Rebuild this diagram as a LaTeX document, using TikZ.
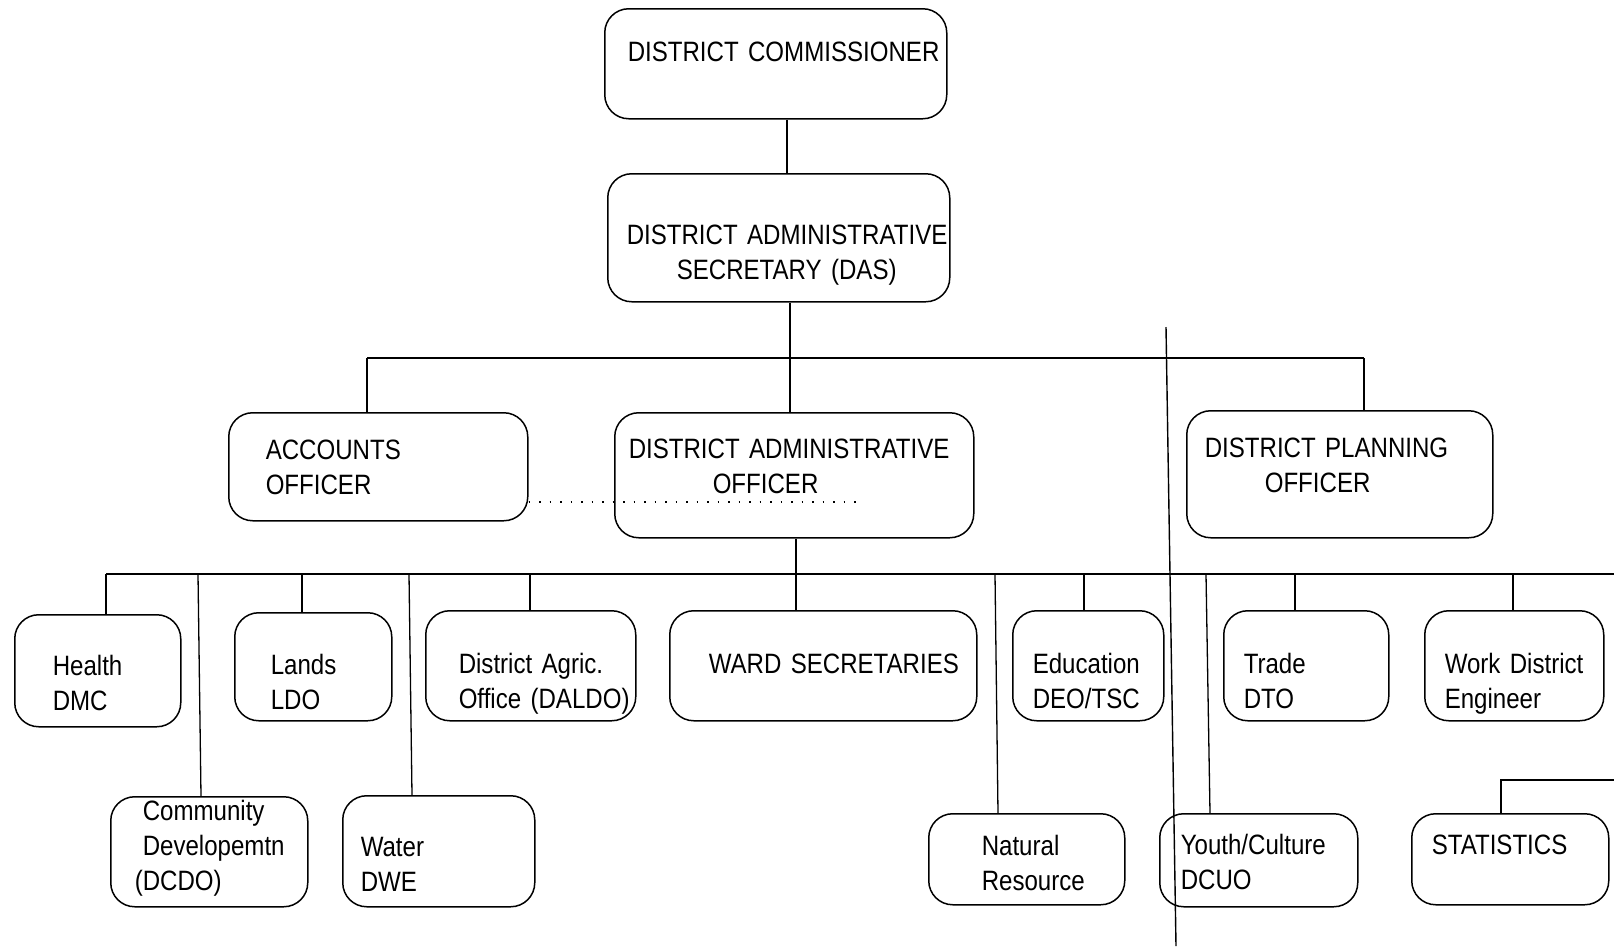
\documentclass[tikz,border=0pt]{standalone}
\usepackage{fontspec}
\setmainfont{Liberation Sans}[FakeStretch=0.86]
\tikzset{
  box/.style={draw, line width=1.5pt, rounded corners=24pt, anchor=north west,
    inner ysep=0pt, align=left, font=\fontsize{28}{35}\selectfont},
  link/.style={line width=1.3pt},
  crease/.style={line width=1.4pt},
  dotlink/.style={line width=1.4pt, dash pattern=on 1.5pt off 9pt}
}
\begin{document}
\begin{tikzpicture}[x=1pt,y=-1pt]
\useasboundingbox (0,0) rectangle (1614,946);
% top levels
\node[box, inner xsep=23pt, text width=296pt, text height=53pt, text depth=57pt] (dc) at (604,8)
  {\mbox{DISTRICT COMMISSIONER}};
\node[box, inner xsep=19pt, text width=304pt, text height=71pt, text depth=57pt] (das) at (607,173)
  {\mbox{DISTRICT ADMINISTRATIVE}\\\hspace*{50pt}\mbox{SECRETARY (DAS)}};
\node[box, inner xsep=37pt, text width=225pt, text height=47pt, text depth=61pt] (acc) at (228,412)
  {\mbox{ACCOUNTS}\\\mbox{OFFICER}};
\node[box, inner xsep=14pt, text width=331pt, text height=46pt, text depth=79pt] (dao) at (614,412)
  {\mbox{DISTRICT ADMINISTRATIVE}\\\hspace*{84pt}\mbox{OFFICER}};
\node[box, inner xsep=18pt, text width=270pt, text height=47pt, text depth=80pt] (dpo) at (1186,410)
  {\mbox{DISTRICT PLANNING}\\\hspace*{60pt}\mbox{OFFICER}};
% third row
\node[box, inner xsep=38pt, text width=90pt, text height=61pt, text depth=51pt] (hea) at (14,614)
  {\mbox{Health}\\\mbox{DMC}};
\node[box, inner xsep=36pt, text width=85pt, text height=62pt, text depth=46pt] (lan) at (234,612)
  {\mbox{Lands}\\\mbox{LDO}};
\node[box, inner xsep=33pt, text width=144pt, text height=63pt, text depth=47pt] (agr) at (425,610)
  {\mbox{District Agric.}\\\mbox{Office (DALDO)}};
\node[box, inner xsep=39pt, text width=229pt, text height=63pt, text depth=47pt] (war) at (669,610)
  {\mbox{WARD SECRETARIES}};
\node[box, inner xsep=20pt, text width=111pt, text height=63pt, text depth=47pt] (edu) at (1012,610)
  {\mbox{Education}\\\mbox{DEO/TSC}};
\node[box, inner xsep=20pt, text width=125pt, text height=63pt, text depth=47pt] (tra) at (1223,610)
  {\mbox{Trade}\\\mbox{DTO}};
\node[box, inner xsep=20pt, text width=139pt, text height=63pt, text depth=47pt] (wor) at (1424,610)
  {\mbox{Work District}\\\mbox{Engineer}};
% fourth row
\node[box, inner xsep=24pt, text width=149pt, text height=24pt, text depth=86pt] (cd) at (110,796)
  {\hspace*{8pt}\mbox{Community}\\\hspace*{8pt}\mbox{Developemtn}\\\mbox{(DCDO)}};
\node[box, inner xsep=18pt, text width=156pt, text height=61pt, text depth=50pt] (wat) at (342,795)
  {\mbox{Water}\\\mbox{DWE}};
\node[box, inner xsep=53pt, text width=90pt, text height=42pt, text depth=49pt] (nat) at (928,813)
  {\mbox{Natural}\\\mbox{Resource}};
\node[box, inner xsep=21pt, text width=156pt, text height=41pt, text depth=52pt] (you) at (1159,813)
  {\mbox{Youth/Culture}\\\mbox{DCUO}};
\node[box, inner xsep=20pt, text width=157pt, text height=41pt, text depth=50pt] (sta) at (1411,813)
  {\mbox{STATISTICS}};
% bus coordinates
\coordinate (b1) at (0,358);
\coordinate (b2) at (0,574);
\coordinate (bend) at (1614,574);
\coordinate (stin) at (1614,780);
\coordinate (dotend) at (860,502);
% connectors top
\draw[link] (787,0 |- dc.south) -- (787,0 |- das.north);
\draw[link] (790,0 |- das.south) -- (790,0 |- b1);
\draw[link] (367,0 |- b1) -- (1364,0 |- b1);
\draw[link] (367,0 |- b1) -- (367,0 |- acc.north);
\draw[link] (790,0 |- b1) -- (790,0 |- dao.north);
\draw[link] (1364,0 |- b1) -- (1364,0 |- dpo.north);
\draw[dotlink] (acc.east |- dotend) -- (dotend);
% second bus
\draw[link] (796,0 |- dao.south) -- (796,0 |- b2);
\draw[link] (106,0 |- b2) -- (bend);
\draw[link] (106,0 |- b2) -- (106,0 |- hea.north);
\draw[link] (302,0 |- b2) -- (302,0 |- lan.north);
\draw[link] (530,0 |- b2) -- (530,0 |- agr.north);
\draw[link] (796,0 |- b2) -- (796,0 |- war.north);
\draw[link] (1084,0 |- b2) -- (1084,0 |- edu.north);
\draw[link] (1295,0 |- b2) -- (1295,0 |- tra.north);
\draw[link] (1513,0 |- b2) -- (1513,0 |- wor.north);
\draw[link] (198,0 |- b2) -- (201,0 |- cd.north);
\draw[link] (409,0 |- b2) -- (412,0 |- wat.north);
\draw[link] (995,0 |- b2) -- (998,0 |- nat.north);
\draw[link] (1206,0 |- b2) -- (1210,0 |- you.north);
\draw[link] (stin) -- (1501,780) -- (1501,0 |- sta.north);
% crease line of the scan
\draw[crease] (1166,327) -- (1176,946);
\end{tikzpicture}
\end{document}
